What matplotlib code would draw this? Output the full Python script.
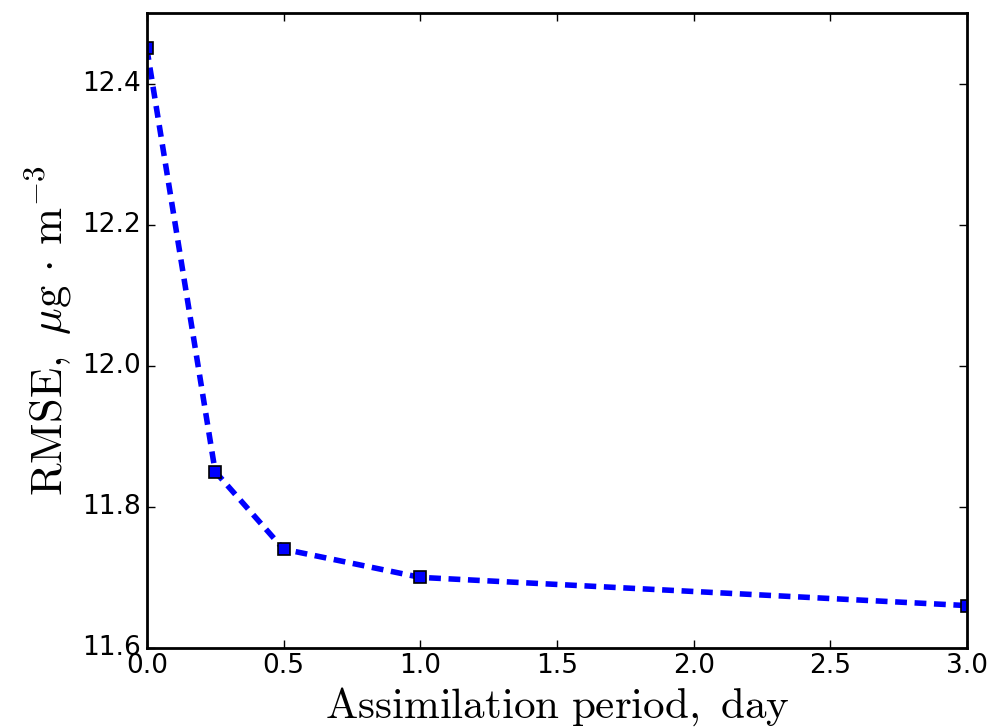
import matplotlib
matplotlib.use("Agg")
import matplotlib.pyplot as plt

plt.style.use('classic')
plt.rcParams['mathtext.fontset'] = 'cm'

period_days = [0.0, 0.25, 0.5, 1.0, 3.0]
rmse = [12.45, 11.85, 11.74, 11.70, 11.66]

fig = plt.figure(figsize=(9.92, 7.28), dpi=100, facecolor='white')
ax = fig.add_axes([0.148, 0.110, 0.827, 0.872])
line, = ax.plot(period_days, rmse, linestyle='--', color='blue', linewidth=4,
                marker='s', markersize=9, markerfacecolor='blue', markeredgecolor='black',
                markeredgewidth=1.2)
line.set_dashes((8.5, 5.5))
ax.set_xlim(0, 3.0)
ax.set_ylim(11.6, 12.5)
ax.set_xticks([0.0, 0.5, 1.0, 1.5, 2.0, 2.5, 3.0])
ax.set_yticks([11.6, 11.8, 12.0, 12.2, 12.4])
ax.tick_params(labelsize=19, width=1, length=6)
for s in ax.spines.values():
    s.set_linewidth(2)
ax.set_xlabel(r'$\mathrm{Assimilation\ period,\ day}$', fontsize=31, labelpad=4)
ax.set_ylabel(r'$\mathrm{RMSE},\ \mu\mathrm{g}\,\cdot\,\mathrm{m}^{-3}$', fontsize=32, labelpad=6)
fig.savefig('out.png', dpi=100, facecolor='white')
